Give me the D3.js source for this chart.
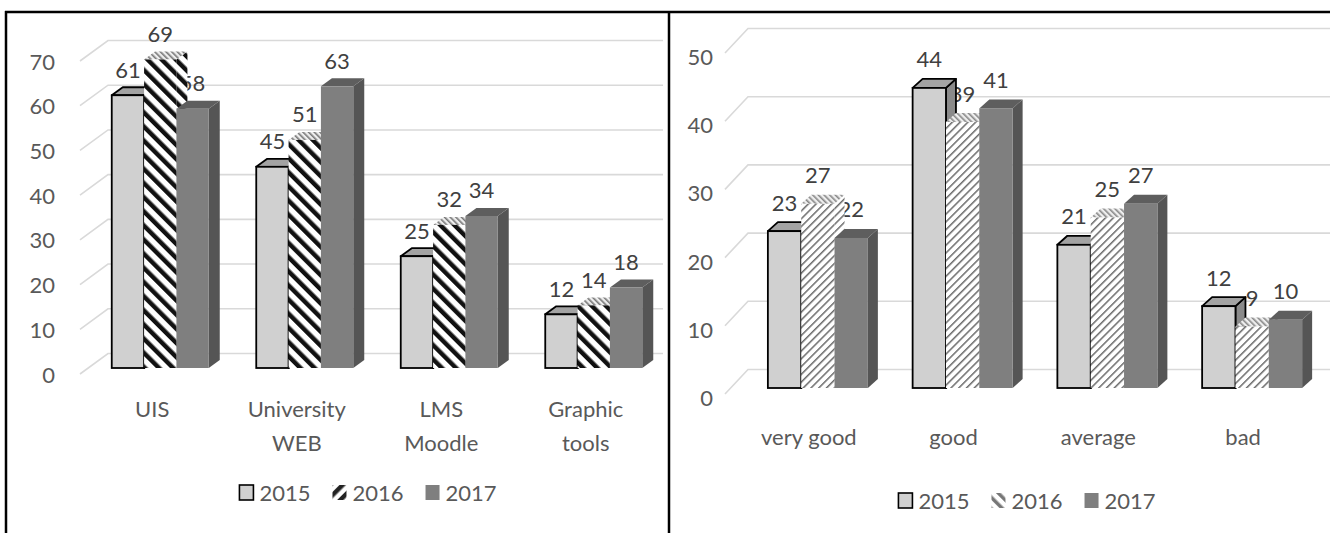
<!DOCTYPE html>
<html><head><meta charset="utf-8">
<script src="https://cdn.jsdelivr.net/npm/d3@7"></script>
<style>
html,body{margin:0;padding:0;background:#fff;}
svg{display:block;}
text{font-family:Lato,"Open Sans",sans-serif;}
</style>
</head><body>
<svg id="chart" width="1330" height="533"></svg>
<script>
// ---- data ----
const seriesNames = ["2015", "2016", "2017"];

const categoriesA = ["UIS", "University WEB", "LMS Moodle", "Graphic tools"];
const labelLinesA = [["UIS"], ["University", "WEB"], ["LMS", "Moodle"], ["Graphic", "tools"]];
const a2015 = [61, 45, 25, 12];
const a2016 = [69, 51, 32, 14];
const a2017 = [58, 63, 34, 18];
const ticksA = [0, 10, 20, 30, 40, 50, 60, 70];

const categoriesB = ["very good", "good", "average", "bad"];
const labelLinesB = [["very good"], ["good"], ["average"], ["bad"]];
const b2015 = [23, 44, 21, 12];
const b2016 = [27, 39, 25, 9];
const b2017 = [22, 41, 27, 10];
const ticksB = [0, 10, 20, 30, 40, 50];

// ---- drawing ----
const svg = d3.select("#chart");
const defs = svg.append("defs");

function stripePattern(id, angle, size, thick, color, bg) {
  const p = defs.append("pattern").attr("id", id)
    .attr("patternUnits", "userSpaceOnUse")
    .attr("width", size).attr("height", size)
    .attr("patternTransform", `rotate(${angle})`);
  p.append("rect").attr("width", size).attr("height", size).attr("fill", bg);
  p.append("rect").attr("x", 0).attr("y", 0).attr("width", thick).attr("height", size).attr("fill", color);
}
stripePattern("hatchA", -45, 10, 4.5, "#111", "#fff");
stripePattern("hatchATop", -45, 4, 1.6, "#777", "#eee");
stripePattern("hatchALeg", 45, 9, 4.5, "#222", "#fff");
stripePattern("hatchB", 45, 5.5, 1.5, "#6a6a6a", "#fff");
stripePattern("hatchBTop", -45, 4, 1.6, "#888", "#eee");
stripePattern("hatchBLeg", -45, 8, 3.5, "#777", "#fff");

const textColor = "#595959";

function drawChart(cfg) {
  const g = svg.append("g");
  const y = d3.scaleLinear().domain([0, cfg.ticks[cfg.ticks.length - 1]]).range(cfg.yRange);
  const x = d3.scaleBand().domain(cfg.categories).range(cfg.xRange).paddingInner(0).paddingOuter(0);
  const groupW = cfg.groupW;
  const inner = d3.scaleBand().domain(seriesNames).range([0, groupW]);
  const pad = (x.bandwidth() - groupW) / 2;

  // gridlines (3D back wall)
  const grid = g.append("g");
  cfg.ticks.forEach(t => {
    const yf = y(t);
    grid.append("path")
      .attr("d", `M${cfg.diagX0},${yf + cfg.diagY0}L${cfg.diagX1},${yf + cfg.diagY1}L${cfg.gridEnd},${yf + cfg.diagY1}`)
      .attr("fill", "none").attr("stroke", "#d9d9d9").attr("stroke-width", 1.6);
  });

  // y tick labels
  const ya = g.append("g");
  cfg.ticks.forEach(t => {
    ya.append("text").attr("x", cfg.tickX).attr("y", y(t) + cfg.tickDy)
      .attr("text-anchor", "end").attr("dominant-baseline", "central")
      .attr("font-size", cfg.fontSize).attr("fill", textColor).text(t);
  });

  // category labels
  cfg.categories.forEach((c, i) => {
    const cx = x(c) + x.bandwidth() / 2 + cfg.catDx;
    cfg.labelLines[i].forEach((line, j) => {
      g.append("text").attr("x", cx).attr("y", cfg.catY + j * cfg.catLineH)
        .attr("text-anchor", "middle").attr("dominant-baseline", "central")
        .attr("font-size", cfg.fontSize).attr("fill", textColor).text(line);
    });
  });

  const dx = cfg.dx, dy = cfg.dy;
  const vals = cfg.values;

  // data labels (drawn behind bars, as in the reference)
  cfg.categories.forEach((c, i) => {
    seriesNames.forEach((s, k) => {
      const v = vals[k][i];
      const x0 = x(c) + pad + inner(s);
      g.append("text").attr("x", x0 + inner.bandwidth() / 2 + cfg.lblDx).attr("y", y(v) + cfg.lblDy)
        .attr("text-anchor", "middle").attr("dominant-baseline", "central")
        .attr("font-size", cfg.fontSize).attr("fill", "#404040").text(v);
    });
  });

  // bars
  const styles = [
    {front: "#d0d0d0", top: "#a3a3a3", side: "#8a8a8a", stroke: "#000"},
    {front: `url(#${cfg.hatch})`, top: `url(#${cfg.hatchTop})`, side: `url(#${cfg.hatch})`, stroke: "none"},
    {front: "#7f7f7f", top: "#5e5e5e", side: "#555555", stroke: "none"}
  ];
  cfg.categories.forEach((c, i) => {
    seriesNames.forEach((s, k) => {
      const v = vals[k][i];
      const st = styles[k];
      const x0 = x(c) + pad + inner(s), w = inner.bandwidth();
      const yt = y(v), yb = y(0);
      const sw = st.stroke === "none" ? 0 : 1.8;
      g.append("path")
        .attr("d", `M${x0 + w},${yt}L${x0 + w + dx},${yt - dy}L${x0 + w + dx},${yb - dy}L${x0 + w},${yb}Z`)
        .attr("fill", st.side).attr("stroke", st.stroke).attr("stroke-width", sw).attr("stroke-linejoin", "round");
      g.append("path")
        .attr("d", `M${x0},${yt}L${x0 + w},${yt}L${x0 + w + dx},${yt - dy}L${x0 + dx},${yt - dy}Z`)
        .attr("fill", st.top).attr("stroke", st.stroke).attr("stroke-width", sw).attr("stroke-linejoin", "round");
      g.append("rect").attr("x", x0).attr("y", yt).attr("width", w).attr("height", yb - yt)
        .attr("fill", st.front).attr("stroke", st.stroke).attr("stroke-width", sw);
    });
  });

  // legend
  const lg = g.append("g");
  const icons = [
    {fill: "#d0d0d0", stroke: "#000"},
    {fill: `url(#${cfg.hatchLeg})`, stroke: "none"},
    {fill: "#7f7f7f", stroke: "none"}
  ];
  let cur = 0;
  seriesNames.forEach((s, k) => {
    const it = lg.append("g");
    it.append("rect").attr("x", 0).attr("y", -7).attr("width", 14).attr("height", 15)
      .attr("fill", icons[k].fill).attr("stroke", icons[k].stroke).attr("stroke-width", icons[k].stroke === "none" ? 0 : 1.6);
    const t = it.append("text").attr("x", cfg.legTextGap).attr("y", 0).attr("dominant-baseline", "central")
      .attr("font-size", cfg.fontSize).attr("fill", textColor).text(s);
    const w = cfg.legTextGap + t.node().getComputedTextLength();
    it.attr("transform", `translate(${cur},${cfg.legY})`);
    cur += w + cfg.legGap;
  });
  const total = cur - cfg.legGap;
  lg.attr("transform", `translate(${cfg.legCx - total / 2},0)`);
}

drawChart({
  categories: categoriesA, labelLines: labelLinesA, ticks: ticksA,
  values: [a2015, a2016, a2017],
  yRange: [368, 55], xRange: [88, 666], groupW: 97,
  dx: 11, dy: 8,
  diagX0: 80, diagY0: 6, diagX1: 108, diagY1: -14.5, gridEnd: 663,
  tickX: 55, tickDy: 6, fontSize: 22,
  catY: 408, catLineH: 34, catDx: -8,
  lblDx: 0, lblDy: -26,
  hatch: "hatchA", hatchTop: "hatchATop", hatchLeg: "hatchALeg",
  legY: 492, legCx: 368, legGap: 22, legTextGap: 20
});

drawChart({
  categories: categoriesB, labelLines: labelLinesB, ticks: ticksB,
  values: [b2015, b2016, b2017],
  yRange: [388, 47], xRange: [745.5, 1324.5], groupW: 100,
  dx: 10, dy: 9,
  diagX0: 725, diagY0: 6, diagX1: 748, diagY1: -18.5, gridEnd: 1330,
  tickX: 713, tickDy: 9.5, fontSize: 22,
  catY: 436, catLineH: 34, catDx: -9,
  lblDx: 0, lblDy: -29,
  hatch: "hatchB", hatchTop: "hatchBTop", hatchLeg: "hatchBLeg",
  legY: 500, legCx: 1027, legGap: 22, legTextGap: 20
});

// frame lines
const frame = svg.append("g").attr("stroke", "#000").attr("stroke-width", 2.5);
frame.append("line").attr("x1", 5).attr("x2", 1330).attr("y1", 12).attr("y2", 12);
frame.append("line").attr("x1", 6).attr("x2", 6).attr("y1", 11).attr("y2", 533);
frame.append("line").attr("x1", 669).attr("x2", 669).attr("y1", 11).attr("y2", 533);
</script>
</body></html>
